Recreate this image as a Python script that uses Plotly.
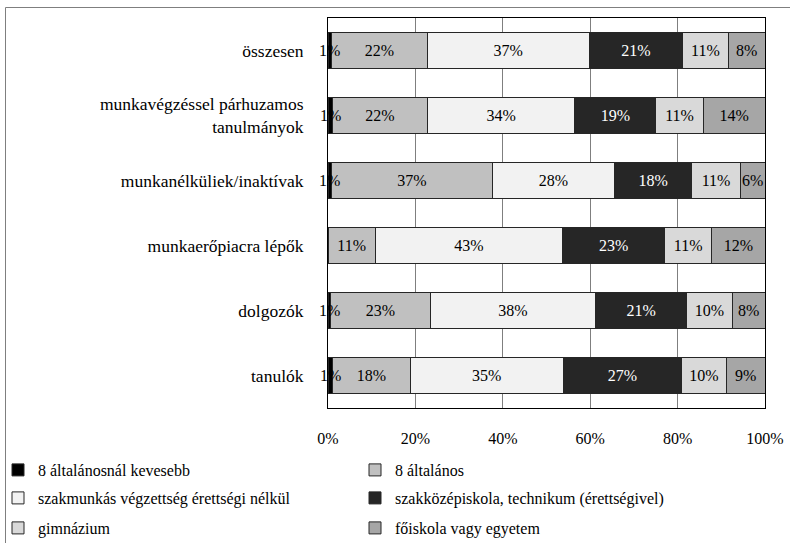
import plotly.graph_objects as go

categories = ["összesen", "munkavégzéssel párhuzamos<br>tanulmányok", "munkanélküliek/inaktívak",
              "munkaerőpiacra lépők", "dolgozók", "tanulók"]

series_names = ["8 általánosnál kevesebb", "8 általános", "szakmunkás végzettség érettségi nélkül",
                "szakközépiskola, technikum (érettségivel)", "gimnázium", "főiskola vagy egyetem"]

kevesebb8 = [0.8, 1.0, 0.8, 0.0, 0.6, 1.1]
altalanos8 = [21.9, 21.7, 36.8, 10.8, 22.8, 17.7]
szakmunkas = [37.1, 33.8, 28.0, 42.9, 37.8, 35.0]
szakkozep = [21.3, 18.5, 17.6, 23.3, 20.9, 27.1]
gimnazium = [10.5, 10.9, 11.2, 10.8, 10.4, 10.2]
foiskola = [8.4, 14.1, 5.6, 12.2, 7.5, 8.9]

series_values = [kevesebb8, altalanos8, szakmunkas, szakkozep, gimnazium, foiskola]
colors = ["#000000", "#c0c0c0", "#f2f2f2", "#262626", "#d9d9d9", "#a6a6a6"]
text_colors = ["#000000", "#000000", "#000000", "#ffffff", "#000000", "#000000"]
x_ticks = [0, 20, 40, 60, 80, 100]

FONT = "Liberation Serif, Tinos, 'Times New Roman', serif"


def lab(v):
    return f"{int(v + 0.5)}%" if v > 0 else ""


fig = go.Figure()
legend_ids = ["legend", "legend", "legend2", "legend2", "legend3", "legend3"]
for i, (name, vals) in enumerate(zip(series_names, series_values)):
    show_text = i != 0
    fig.add_trace(go.Bar(
        y=categories, x=vals, name=name, orientation="h",
        marker=dict(color=colors[i], line=dict(color="#262626", width=1)),
        text=[lab(v) for v in vals] if show_text else None,
        textposition="inside" if show_text else "none",
        insidetextanchor="middle", textangle=0,
        textfont=dict(family=FONT, size=16, color=text_colors[i]),
        legend=legend_ids[i],
        hoverinfo="skip",
    ))

# small first-segment labels
for cat, v in zip(categories, kevesebb8):
    if v > 0:
        fig.add_annotation(x=v / 2, y=cat, xref="x", yref="y", text=lab(v), showarrow=False,
                           xanchor="center", yanchor="middle",
                           font=dict(family=FONT, size=16, color="#000000"))

W, H = 790, 543
L, R, T, B = 328, 25, 18, 135
pw, ph = W - L - R, H - T - B


def px_x(p):
    return (p - L) / pw


def px_y(p):
    return (H - B - p) / ph


fig.add_shape(type="rect", xref="paper", yref="paper",
              x0=px_x(5.5), x1=px_x(800), y0=px_y(560), y1=px_y(7.5),
              line=dict(color="#7f7f7f", width=1), fillcolor="rgba(0,0,0,0)", layer="below")

legend_common = dict(orientation="h", xanchor="left", yanchor="middle", x=px_x(-2),
                     entrywidth=312, entrywidthmode="pixels", itemwidth=30,
                     font=dict(family=FONT, size=16, color="#000000"),
                     bgcolor="rgba(0,0,0,0)", traceorder="normal")

fig.update_layout(
    template="none",
    width=W, height=H,
    margin=dict(l=L, r=R, t=T, b=B, pad=0, autoexpand=False),
    paper_bgcolor="white", plot_bgcolor="white",
    barmode="stack", bargap=0.46,
    uniformtext=dict(minsize=16, mode="show"),
    font=dict(family=FONT, size=16, color="#000000"),
    xaxis=dict(range=[0, 100], tickvals=x_ticks, ticktext=[f"{t}%" for t in x_ticks],
               showgrid=True, gridcolor="#7f7f7f", gridwidth=1, zeroline=False,
               showline=True, linecolor="#000000", linewidth=1, mirror=True, automargin=False,
               ticks="", ticklabelstandoff=16, tickfont=dict(family=FONT, size=16)),
    yaxis=dict(autorange="reversed", showgrid=False, zeroline=False,
               showline=True, linecolor="#000000", linewidth=1, mirror=True, automargin=False,
               ticks="", ticklabelstandoff=20, tickfont=dict(family=FONT, size=17.5)),
    legend=dict(legend_common, y=px_y(470)),
    legend2=dict(legend_common, y=px_y(498)),
    legend3=dict(legend_common, y=px_y(528)),
)

fig.write_html("out.html", config={"displayModeBar": False},
               post_script="document.body.style.margin='0px';")
